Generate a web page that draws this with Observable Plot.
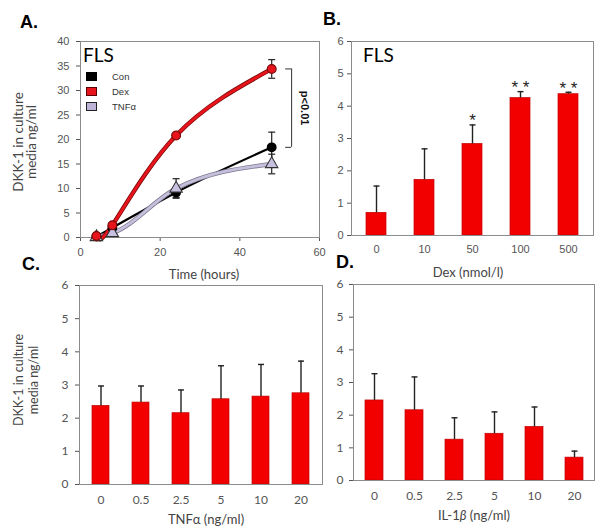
<!DOCTYPE html>
<html><head><meta charset="utf-8">
<script src="https://cdn.jsdelivr.net/npm/d3@7"></script>
<script src="https://cdn.jsdelivr.net/npm/@observablehq/plot@0.6"></script>
<style>
body{margin:0;background:#fff;}
#root{position:relative;width:600px;height:532px;overflow:hidden;background:#fff;}
#root svg{position:absolute;}
.letter{position:absolute;font:bold 18px "Liberation Sans",Arial,sans-serif;line-height:18px;color:#000;}
.ylab{position:absolute;transform:translate(-50%,-50%) rotate(-90deg);text-align:center;white-space:nowrap;color:#444;font-family:Lato,"Open Sans",sans-serif;}
.xlab{position:absolute;transform:translate(-50%,-50%);white-space:nowrap;color:#444;font-family:Lato,"Open Sans",sans-serif;font-size:13px;line-height:16px;}
.fls{position:absolute;font-family:Lato,"Open Sans",sans-serif;font-size:19px;line-height:19px;color:#000;}
.leg{position:absolute;font-family:"Liberation Sans",Arial,sans-serif;font-size:9.5px;line-height:10px;color:#333;}
.sw{position:absolute;width:11px;height:9px;box-sizing:border-box;}
</style></head><body><div id="root"></div>
<script>
// ---- Panel A: time course (hours) ----
const hours = [4, 8, 24, 48];
const conMean = [0.2, 2.0, 9.2, 18.4];
const conErr  = [0.3, 0.5, 1.0, 3.1];
const dexMean = [0.3, 2.5, 20.8, 34.4];
const dexErr  = [0.3, 0.4, 0.5, 1.9];
const tnfMean = [0.1, 0.9, 10.0, 15.0];
const tnfErr  = [0.2, 0.4, 2.0, 2.0];
const seriesNames = ["Con", "Dex", "TNF\u03b1"];
const aXTicks = [0, 20, 40, 60];
const aYTicks = [0, 5, 10, 15, 20, 25, 30, 35, 40];
const bracketX = 53, bracketTickX = 51.5, pTextX = 56.2;

// ---- Panel B: Dex dose ----
const dexDose = ["0", "10", "50", "100", "500"];
const dexDoseMean = [0.70, 1.72, 2.83, 4.25, 4.37];
const dexDoseSD   = [0.83, 0.96, 0.59, 0.20, 0.06];
const dexDoseSig  = ["", "", "*", "**", "**"];

// ---- Panel C: TNFα dose ----
const tnfDose = ["0", "0.5", "2.5", "5", "10", "20"];
const tnfDoseMean = [2.37, 2.47, 2.15, 2.57, 2.65, 2.75];
const tnfDoseSD   = [0.60, 0.50, 0.70, 1.01, 0.97, 0.97];

// ---- Panel D: IL-1β dose ----
const ilDose = ["0", "0.5", "2.5", "5", "10", "20"];
const ilDoseMean = [2.45, 2.15, 1.25, 1.43, 1.64, 0.70];
const ilDoseSD   = [0.82, 1.02, 0.67, 0.67, 0.61, 0.20];

const barYTicks = [0, 1, 2, 3, 4, 5, 6];

// ---------------------------------------------------------------
const root = document.getElementById("root");
const cap = {draw(ctx, size){ const r = Math.sqrt(size/Math.PI); ctx.moveTo(-r,0); ctx.lineTo(r,0); }};
const mk = (x, m, e) => x.map((v,i) => ({x: v, mean: m[i], err: e[i]}));
const con = mk(hours, conMean, conErr);
const dex = mk(hours, dexMean, dexErr);
const tnf = mk(hours, tnfMean, tnfErr);
const FRAME = "#8c8c8c";
const intFmt = d3.format("d");

function place(svg, left, top){ svg.style.left = left+"px"; svg.style.top = top+"px"; root.appendChild(svg); }

// Panel A
const lastDex = dexMean[dexMean.length-1], lastCon = conMean[conMean.length-1];
const A = Plot.plot({
  width: 330, height: 262, marginLeft: 80, marginRight: 11, marginTop: 41, marginBottom: 25,
  style: {background: "transparent", fontFamily: "'Liberation Sans', Arial, sans-serif", fontSize: "11px", color: "#555", overflow: "visible"},
  x: {domain: [0, 60], ticks: aXTicks, tickFormat: intFmt, label: null, tickSize: 4, tickPadding: 7},
  y: {domain: [0, 40], ticks: aYTicks, tickFormat: intFmt, label: null, tickSize: 4, tickPadding: 7},
  marks: [
    Plot.frame({stroke: FRAME}),
    Plot.line(con, {x: "x", y: "mean", stroke: "#000", strokeWidth: 2.2, curve: "monotone-x"}),
    Plot.line(tnf, {x: "x", y: "mean", stroke: "#7d7890", strokeWidth: 4.4, curve: "monotone-x"}),
    Plot.line(tnf, {x: "x", y: "mean", stroke: "#c6bfdc", strokeWidth: 2.8, curve: "monotone-x"}),
    Plot.line(dex, {x: "x", y: "mean", stroke: "#7a0a0a", strokeWidth: 4.4, curve: "natural"}),
    Plot.line(dex, {x: "x", y: "mean", stroke: "#e8141b", strokeWidth: 2.8, curve: "natural"}),
    ...[con, tnf, dex].flatMap(s => [
      Plot.ruleX(s, {x: "x", y1: d => d.mean - d.err, y2: d => d.mean + d.err, stroke: "#222", strokeWidth: 1.2}),
      Plot.dot(s, {x: "x", y: d => d.mean - d.err, symbol: cap, r: 3.5, fill: "none", stroke: "#222", strokeWidth: 1.2}),
      Plot.dot(s, {x: "x", y: d => d.mean + d.err, symbol: cap, r: 3.5, fill: "none", stroke: "#222", strokeWidth: 1.2})
    ]),
    Plot.dot(con, {x: "x", y: "mean", r: 4.2, fill: "#000", stroke: "#000"}),
    Plot.dot(tnf, {x: "x", y: "mean", symbol: "triangle", r: 4.6, fill: "#c8c0e0", stroke: "#333", strokeWidth: 1.1}),
    Plot.dot(dex, {x: "x", y: "mean", r: 4.4, fill: "#e8141b", stroke: "#7a0a0a", strokeWidth: 1.2}),
    Plot.ruleX([0], {x: () => bracketX, y1: () => lastDex, y2: () => lastCon, stroke: "#333", strokeWidth: 1}),
    Plot.ruleY([lastDex, lastCon], {y: d => d, x1: bracketTickX, x2: bracketX, stroke: "#333", strokeWidth: 1}),
    Plot.text(["p<0.01"], {x: () => pTextX, y: () => (lastDex + lastCon) / 2, text: d => d, rotate: 90, fontWeight: "bold", fontSize: 11, fill: "#111", fontFamily: "'Liberation Sans', Arial"})
  ]
});
place(A, 0, 0);

function barPanel(cats, means, sds, sig, opts){
  const rows = cats.map((c,i) => ({c, mean: means[i], sd: sds[i], sig: sig ? sig[i] : ""}));
  const marks = [
    Plot.barY(rows, {x: "c", y: "mean", fill: "#f20000", stroke: "#c00000", strokeWidth: 0.7}),
    Plot.ruleX(rows, {x: "c", y1: "mean", y2: d => d.mean + d.sd, stroke: "#222", strokeWidth: 1.4}),
    Plot.dot(rows, {x: "c", y: d => d.mean + d.sd, symbol: cap, r: 3, fill: "none", stroke: "#222", strokeWidth: 1.4}),
    Plot.frame({stroke: FRAME})
  ];
  if (sig) marks.push(Plot.text(rows, {x: "c", y: d => d.mean + d.sd, text: d => d.sig.split("").join(" "), lineAnchor: "middle", dy: -4, fontSize: 17, fill: "#222", fontFamily: "'Liberation Sans', Arial"}));
  return Plot.plot({
    width: opts.width, height: opts.height,
    marginLeft: opts.ml, marginRight: opts.mr, marginTop: opts.mt, marginBottom: opts.mb,
    style: {background: "transparent", fontFamily: opts.font, fontSize: opts.fs, color: "#555", overflow: "visible"},
    x: {type: "band", domain: cats, paddingInner: opts.pi, paddingOuter: opts.po, label: null, tickSize: 0, tickPadding: opts.xpad},
    y: {domain: [0, 6], ticks: barYTicks, tickFormat: intFmt, label: null, tickSize: 4, tickPadding: opts.ypad},
    marks
  });
}

const B = barPanel(dexDose, dexDoseMean, dexDoseSD, dexDoseSig,
  {width: 300, height: 262, ml: 51, mr: 7, mt: 41, mb: 27, pi: 0.59, po: 0.265, xpad: 10, ypad: 4,
   font: "'Liberation Sans', Arial, sans-serif", fs: "11px"});
place(B, 300, 0);

const C = barPanel(tnfDose, tnfDoseMean, tnfDoseSD, null,
  {width: 330, height: 262, ml: 79, mr: 8, mt: 25, mb: 38, pi: 0.583, po: 0.26, xpad: 11, ypad: 7,
   font: "Lato, 'Open Sans', sans-serif", fs: "12px"});
place(C, 0, 260);

const D = barPanel(ilDose, ilDoseMean, ilDoseSD, null,
  {width: 300, height: 262, ml: 53, mr: 6, mt: 24, mb: 42, pi: 0.56, po: 0.25, xpad: 11, ypad: 6,
   font: "Lato, 'Open Sans', sans-serif", fs: "12px"});
place(D, 300, 260);

// ---- text overlays ----
function div(cls, html, css){ const d = document.createElement("div"); d.className = cls; d.innerHTML = html; Object.assign(d.style, css); root.appendChild(d); return d; }
div("letter", "A.", {left: "20px", top: "13px"});
div("letter", "B.", {left: "323px", top: "10px"});
div("letter", "C.", {left: "22px", top: "255px"});
div("letter", "D.", {left: "336px", top: "253px"});

div("fls", "FLS", {left: "83px", top: "45px"});
div("fls", "FLS", {left: "363px", top: "45px"});

div("ylab", "DKK-1 in culture<br>media ng/ml", {left: "25px", top: "142px", fontSize: "13.5px", lineHeight: "13px"});
div("ylab", "DKK-1 in culture<br>media ng/ml", {left: "26px", top: "380px", fontSize: "12.5px", lineHeight: "15px"});

div("xlab", "Time (hours)", {left: "204px", top: "274px"});
div("xlab", "Dex (nmol/l)", {left: "468px", top: "272px"});
div("xlab", "TNF\u03b1 (ng/ml)", {left: "206px", top: "519px"});
div("xlab", "IL-1<i>\u03b2</i> (ng/ml)", {left: "474px", top: "515px"});

// legend (panel A)
const legColors = [["#000", "#000"], ["#e8141b", "#5a0000"], ["#bdb3d6", "#222"]];
const legTops = [72, 87, 102];
seriesNames.forEach((n, i) => {
  div("sw", "", {left: "86px", top: legTops[i] + "px", background: legColors[i][0], border: "1px solid " + legColors[i][1]});
  div("leg", n, {left: "112px", top: (legTops[i] - 0.5) + "px"});
});
</script></body></html>
